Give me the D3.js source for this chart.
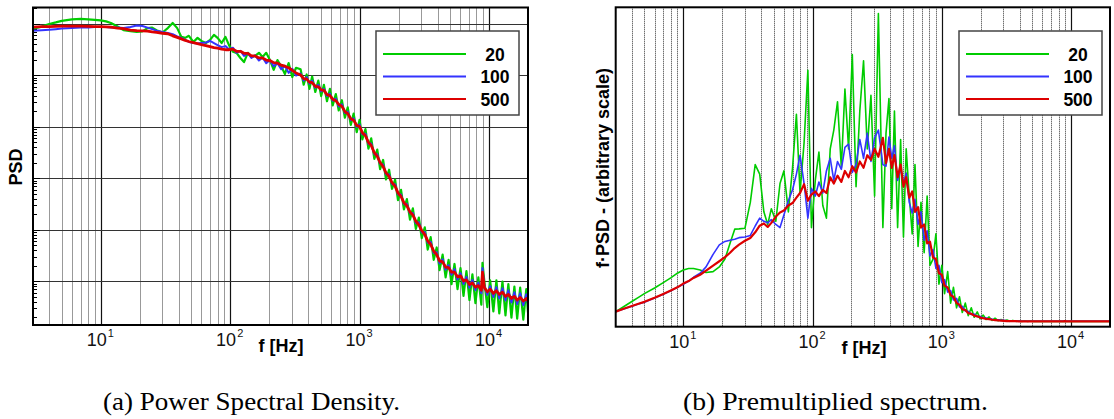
<!DOCTYPE html>
<html>
<head>
<meta charset="utf-8">
<script src="https://cdn.jsdelivr.net/npm/d3@7"></script>
<style>
  body { margin: 0; background: #fff; }
  svg { display: block; }
</style>
</head>
<body>
<svg id="fig" width="1114" height="419"></svg>
<script>
// frequency grid [Hz] shared by every curve
const lowFreq = [3, 3.5, 4, 4.5, 5, 6, 7, 8, 9, 10,
  11, 12, 13.5, 15, 17, 19, 21, 23, 25, 27,
  30, 33, 36, 39, 42, 45, 48, 52, 56, 60,
  65, 70, 75, 80, 86, 92, 98, 105, 112, 120,
  128, 137, 146, 156, 167, 178, 190, 203, 217, 232,
  248, 265, 283, 302, 323];
const highFreq = [350, 370, 390, 410, 430, 455, 480, 505, 530, 560,
  590, 620, 655, 690, 730, 770, 810, 855, 900, 950,
  1000, 1050, 1110, 1170, 1230, 1300, 1370, 1440, 1520, 1600,
  1690, 1780, 1880, 1980, 2090, 2200, 2320, 2450, 2580, 2720,
  2870, 3020, 3190, 3360, 3540, 3740, 3940, 4150, 4380, 4620,
  4870, 5130, 5410, 5710, 6020, 6350, 6690, 7060, 7440, 7850,
  8270, 8720, 8900, 9200, 9700, 10200, 10800, 11400, 12000, 12700,
  13400, 14100, 14900, 15700, 16500, 17400, 18400, 19400, 20000];

// (a) PSD, stored as log10 of the (arbitrary) PSD value
const psd20 = [-0.09, -0.05, 0.00, 0.03, 0.06, 0.09, 0.10, 0.09, 0.08, 0.07,
  0.05, 0.02, -0.05, -0.12, -0.14, -0.155, -0.145, -0.08, -0.07, -0.12,
  -0.165, -0.08, 0.02, -0.08, -0.25, -0.27, -0.23, -0.35, -0.27, -0.33,
  -0.37, -0.31, -0.21, -0.27, -0.37, -0.25, -0.41, -0.54, -0.56, -0.66,
  -0.74, -0.56, -0.64, -0.62, -0.56, -0.64, -0.56, -0.70, -0.89, -0.70,
  -0.82, -0.97, -0.76, -1.03, -0.85,
  -0.88, -1.18, -0.98, -1.26, -1.02, -1.32, -1.10, -1.40, -1.18, -1.50,
  -1.26, -1.58, -1.36, -1.68, -1.48, -1.82, -1.62, -1.96, -1.74, -2.10,
  -1.86, -2.24, -2.04, -2.42, -2.22, -2.62, -2.44, -2.82, -2.64, -3.02,
  -2.83, -3.20, -3.02, -3.42, -3.22, -3.60, -3.40, -3.80, -3.58, -3.98,
  -3.76, -4.16, -3.95, -4.38, -4.14, -4.58, -4.34, -4.78, -4.48, -4.92,
  -4.58, -5.05, -4.66, -5.15, -4.74, -5.28, -4.80, -5.36, -4.86, -5.42,
  -4.92, -5.45, -4.64, -5.00, -5.50, -4.98, -5.58, -4.98, -5.62, -5.00,
  -5.66, -5.05, -5.70, -5.10, -5.72, -5.12, -5.74, -5.15, -5.60];
const psd100 = [-0.13, -0.12, -0.11, -0.10, -0.09, -0.08, -0.07, -0.07, -0.06, -0.06,
  -0.06, -0.07, -0.07, -0.08, -0.06, -0.03, -0.04, -0.07, -0.10, -0.13,
  -0.155, -0.175, -0.20, -0.24, -0.27, -0.31, -0.35, -0.37, -0.38, -0.37,
  -0.36, -0.33, -0.37, -0.41, -0.45, -0.43, -0.49, -0.46, -0.56, -0.52,
  -0.62, -0.57, -0.66, -0.61, -0.71, -0.65, -0.76, -0.70, -0.82, -0.76,
  -0.88, -0.81, -0.95, -0.87, -1.00,
  -0.96, -1.10, -1.03, -1.16, -1.10, -1.24, -1.18, -1.31, -1.26, -1.40,
  -1.35, -1.49, -1.45, -1.60, -1.56, -1.73, -1.70, -1.87, -1.83, -2.00,
  -1.95, -2.14, -2.13, -2.33, -2.32, -2.53, -2.53, -2.72, -2.73, -2.92,
  -2.92, -3.11, -3.11, -3.31, -3.31, -3.50, -3.49, -3.68, -3.67, -3.87,
  -3.85, -4.05, -4.04, -4.25, -4.23, -4.45, -4.43, -4.65, -4.57, -4.77,
  -4.68, -4.87, -4.76, -4.96, -4.84, -5.05, -4.91, -5.12, -4.97, -5.17,
  -5.02, -5.23, -4.74, -5.08, -5.26, -5.09, -5.30, -5.11, -5.33, -5.13,
  -5.37, -5.17, -5.41, -5.21, -5.44, -5.23, -5.46, -5.25, -5.44];
const psd500 = [-0.06, -0.05, -0.05, -0.045, -0.04, -0.04, -0.04, -0.045, -0.05, -0.05,
  -0.055, -0.06, -0.08, -0.09, -0.12, -0.13, -0.135, -0.14, -0.155, -0.165,
  -0.18, -0.19, -0.23, -0.26, -0.29, -0.32, -0.34, -0.36, -0.38, -0.40,
  -0.42, -0.44, -0.46, -0.47, -0.49, -0.50, -0.50, -0.49, -0.53, -0.53,
  -0.57, -0.57, -0.62, -0.62, -0.66, -0.66, -0.70, -0.71, -0.75, -0.76,
  -0.80, -0.82, -0.85, -0.90, -0.95,
  -0.99, -1.06, -1.07, -1.13, -1.14, -1.21, -1.22, -1.28, -1.29, -1.37,
  -1.39, -1.46, -1.49, -1.56, -1.60, -1.70, -1.74, -1.84, -1.87, -1.97,
  -1.99, -2.11, -2.17, -2.30, -2.36, -2.50, -2.57, -2.69, -2.77, -2.89,
  -2.96, -3.08, -3.15, -3.28, -3.35, -3.47, -3.53, -3.65, -3.71, -3.83,
  -3.90, -4.01, -4.09, -4.21, -4.28, -4.41, -4.48, -4.60, -4.62, -4.72,
  -4.73, -4.82, -4.82, -4.91, -4.89, -4.99, -4.97, -5.06, -5.03, -5.11,
  -5.08, -5.17, -4.82, -5.12, -5.20, -5.15, -5.23, -5.18, -5.25, -5.21,
  -5.29, -5.25, -5.33, -5.29, -5.36, -5.31, -5.38, -5.33, -5.38];

// (b) premultiplied spectrum f*PSD, arbitrary linear units
const pre20 = [3.3, 5.0, 6.5, 7.8, 9.0, 10.8, 12.5, 14.0, 15.5, 16.5,
  17.0, 17.0, 16.5, 15.7, 16.0, 17.5, 20.0, 25.0, 29.5, 29.6,
  29.8, 38.0, 50.0, 47.0, 35.0, 31.0, 36.0, 32.0, 44.0, 48.0,
  35.0, 49.0, 66.0, 41.0, 57.0, 80.0, 30.0, 45.0, 54.0, 37.0,
  33.0, 55.0, 61.0, 70.0, 49.0, 74.0, 55.0, 85.0, 43.0, 67.0,
  83.0, 55.0, 72.0, 40.0, 98.0,
  30.0, 60.0, 71.0, 36.0, 67.0, 30.0, 58.0, 27.0, 55.0, 40.0,
  28.0, 50.0, 24.0, 38.0, 22.0, 40.0, 18.0, 20.0, 28.0, 12.0,
  18.0, 9.0, 16.0, 6.0, 11.0, 4.5, 8.0, 3.0, 6.0, 2.0,
  4.5, 1.5, 3.2, 1.0, 2.2, 0.8, 1.6, 0.5, 1.2, 0.4,
  0.8, 0.3, 0.6, 0.2, 0.5, 0.2, 0.4, 0.2, 0.3, 0.2,
  0.3, 0.2, 0.2, 0.2, 0.2, 0.2, 0.2, 0.2, 0.2, 0.2,
  0.2, 0.2, 0.2, 0.2, 0.2, 0.2, 0.2, 0.2, 0.2, 0.2,
  0.2, 0.2, 0.2, 0.2, 0.2, 0.2, 0.2, 0.2, 0.2];
const pre100 = [3.3, 4.2, 5.0, 5.7, 6.3, 7.6, 8.8, 9.9, 11.0, 12.0,
  13.0, 14.2, 15.5, 17.5, 21.5, 24.5, 25.6, 26.0, 26.3, 26.8,
  27.0, 27.5, 30.5, 33.0, 32.0, 31.5, 32.5, 31.0, 30.0, 34.0,
  38.5, 42.0, 47.0, 53.0, 44.0, 33.0, 42.5, 40.0, 44.5, 41.0,
  48.0, 52.0, 45.0, 51.0, 48.5, 55.5, 56.5, 47.5, 50.0, 58.0,
  52.0, 60.0, 51.0, 58.5, 61.0,
  50.0, 49.5, 58.8, 52.0, 56.0, 45.0, 49.0, 44.0, 47.3, 38.0,
  34.6, 39.0, 31.0, 35.0, 26.0, 29.0, 21.0, 23.0, 17.0, 18.0,
  12.5, 13.5, 9.5, 10.0, 7.0, 7.5, 4.8, 5.0, 3.5, 3.4,
  2.4, 2.5, 1.7, 1.8, 1.2, 1.3, 0.9, 0.9, 0.6, 0.7,
  0.5, 0.5, 0.4, 0.35, 0.3, 0.3, 0.3, 0.25, 0.25, 0.25,
  0.25, 0.25, 0.25, 0.25, 0.25, 0.25, 0.25, 0.25, 0.25, 0.25,
  0.25, 0.25, 0.3, 0.25, 0.25, 0.25, 0.25, 0.25, 0.25, 0.25,
  0.25, 0.25, 0.25, 0.25, 0.25, 0.25, 0.25, 0.25, 0.25];
const pre500 = [3.3, 4.3, 5.1, 5.8, 6.4, 7.7, 8.9, 10.0, 11.0, 12.2,
  13.0, 14.0, 15.0, 16.3, 17.9, 19.3, 20.6, 22.0, 23.5, 24.6,
  25.8, 26.7, 28.5, 30.6, 31.3, 30.2, 31.5, 33.5, 34.8, 35.4,
  37.0, 37.8, 39.5, 41.0, 43.8, 38.5, 40.5, 41.5, 40.0, 42.0,
  41.0, 46.0, 44.0, 46.5, 44.5, 48.0, 46.0, 49.5, 47.5, 51.0,
  49.0, 53.0, 51.5, 55.0, 52.5,
  58.5, 50.5, 55.0, 49.0, 53.0, 46.0, 50.0, 43.0, 46.0, 39.5,
  41.5, 35.0, 36.5, 30.0, 31.0, 25.0, 25.5, 20.5, 20.0, 15.5,
  15.0, 11.5, 11.0, 8.5, 8.0, 6.0, 5.5, 4.0, 3.8, 2.8,
  2.6, 2.0, 1.8, 1.4, 1.2, 1.0, 0.9, 0.7, 0.6, 0.5,
  0.4, 0.35, 0.3, 0.3, 0.25, 0.25, 0.2, 0.2, 0.2, 0.2,
  0.2, 0.2, 0.2, 0.2, 0.2, 0.2, 0.2, 0.2, 0.2, 0.2,
  0.2, 0.2, 0.25, 0.2, 0.2, 0.2, 0.2, 0.2, 0.2, 0.2,
  0.2, 0.2, 0.2, 0.2, 0.2, 0.2, 0.2, 0.2, 0.2];

const seriesNames = ["20", "100", "500"];
const seriesColors = ["#00cc00", "#3333ff", "#dd0000"];
const decadeTicks = [10, 100, 1000, 10000];
const captions = ["(a) Power Spectral Density.", "(b) Premultiplied spectrum."];

const freq = lowFreq.concat(highFreq);
const svg = d3.select("#fig");
const font = "'Liberation Sans', Arial, Helvetica, sans-serif";
const crisp = v => Math.round(v) + 0.5;

function drawPanel(p) {
  const g = svg.append("g");
  const x = d3.scaleLog().domain([3, 20000]).range([p.left, p.right]);
  const y = p.y;

  // vertical grid: dotted minors, solid decades
  const minors = [];
  [1, 10, 100, 1000, 10000].forEach(d => {
    for (let k = 2; k <= 9; k++) {
      const v = d * k;
      if (v > 3 && v < 20000) minors.push(v);
    }
  });
  g.append("g").selectAll("line").data(minors).join("line")
    .attr("x1", d => crisp(x(d))).attr("x2", d => crisp(x(d)))
    .attr("y1", p.top).attr("y2", p.bottom)
    .attr("stroke", "#333").attr("stroke-width", 1)
    .attr("stroke-dasharray", "1,1");
  g.append("g").selectAll("line").data(decadeTicks).join("line")
    .attr("x1", d => crisp(x(d))).attr("x2", d => crisp(x(d)))
    .attr("y1", p.top).attr("y2", p.bottom)
    .attr("stroke", "#111").attr("stroke-width", 1.2);

  if (p.hgrid) {
    g.append("g").selectAll("line").data(p.hgrid).join("line")
      .attr("x1", p.left).attr("x2", p.right)
      .attr("y1", d => crisp(y(d))).attr("y2", d => crisp(y(d)))
      .attr("stroke", "#333").attr("stroke-width", 1.2);
    // minor ticks on the left axis
    const yt = [];
    p.hgrid.concat([10]).forEach(d => {
      for (let k = 1; k <= 9; k++) {
        const v = d / 10 * k;
        if (v >= y.domain()[0] && v <= y.domain()[1]) yt.push([v, k === 1 ? 7 : 4]);
      }
    });
    g.append("g").selectAll("line").data(yt).join("line")
      .attr("x1", p.left).attr("x2", d => p.left + d[1])
      .attr("y1", d => crisp(y(d[0]))).attr("y2", d => crisp(y(d[0])))
      .attr("stroke", "#000").attr("stroke-width", 1);
  }

  // curves
  const clipId = "clip" + p.id;
  svg.append("clipPath").attr("id", clipId).append("rect")
    .attr("x", p.left).attr("y", p.top)
    .attr("width", p.right - p.left).attr("height", p.bottom - p.top);
  const line = d3.line().x(d => x(d[0])).y(d => y(d[1]));
  const lg = g.append("g").attr("clip-path", `url(#${clipId})`).attr("fill", "none");
  p.series.forEach((vals, i) => {
    lg.append("path")
      .datum(freq.map((f, j) => [f, p.val(vals[j])]))
      .attr("d", line)
      .attr("stroke", seriesColors[i])
      .attr("stroke-width", p.widths[i])
      .attr("stroke-linejoin", "round");
  });

  // frame
  g.append("rect")
    .attr("x", p.left).attr("y", p.top)
    .attr("width", p.right - p.left).attr("height", p.bottom - p.top)
    .attr("fill", "none").attr("stroke", "#000").attr("stroke-width", 2);

  // x tick labels 10^n
  decadeTicks.forEach((d, i) => {
    g.append("text")
      .attr("x", x(d) + 6).attr("y", p.bottom + 21)
      .attr("text-anchor", "end")
      .attr("font-family", font).attr("font-size", 18).attr("fill", "#111")
      .text("10");
    g.append("text")
      .attr("x", x(d) + 7).attr("y", p.bottom + 12)
      .attr("font-family", font).attr("font-size", 11).attr("fill", "#111")
      .text(String(i + 1));
  });

  g.append("text")
    .attr("x", p.xlabelX).attr("y", p.bottom + 27)
    .attr("text-anchor", "middle")
    .attr("font-family", font).attr("font-size", 18).attr("font-weight", "bold")
    .text("f [Hz]");

  g.append("text")
    .attr("transform", `translate(${p.ylabelX},${p.ylabelY}) rotate(-90)`)
    .attr("text-anchor", "middle")
    .attr("font-family", font).attr("font-size", 18).attr("font-weight", "bold")
    .text(p.ylabel);

  // legend
  if (p.legend) {
    const L = p.legend;
    const lgd = g.append("g");
    lgd.append("rect")
      .attr("x", L.x).attr("y", L.y).attr("width", 143).attr("height", 84)
      .attr("fill", "#fff").attr("stroke", "#444").attr("stroke-width", 1.5);
    seriesNames.forEach((name, i) => {
      const ly = L.y + 23 + i * 22.5;
      lgd.append("line")
        .attr("x1", L.x + 7).attr("x2", L.x + 90)
        .attr("y1", ly).attr("y2", ly)
        .attr("stroke", seriesColors[i]).attr("stroke-width", 2.2);
      lgd.append("text")
        .attr("x", L.x + 119).attr("y", ly + 6.5)
        .attr("text-anchor", "middle")
        .attr("font-family", font).attr("font-size", 17.5).attr("font-weight", "bold")
        .text(name);
    });
  }

  svg.append("text")
    .attr("x", p.captionX).attr("y", 410)
    .attr("text-anchor", "middle")
    .attr("font-family", "'Liberation Serif', 'Times New Roman', serif")
    .attr("font-size", 26)
    .attr("textLength", p.captionW).attr("lengthAdjust", "spacingAndGlyphs")
    .text(p.caption);
}

const yPsd = d3.scaleLog().domain([Math.pow(10, -5.845), Math.pow(10, 0.32)]).range([325, 7.5]);
drawPanel({
  id: "a", left: 33, right: 528, top: 7.5, bottom: 325,
  y: yPsd,
  hgrid: [1, 1e-1, 1e-2, 1e-3, 1e-4, 1e-5],
  series: [psd20, psd100, psd500],
  val: v => Math.pow(10, v),
  widths: [2.2, 2, 2.8],
  xlabelX: 281, ylabelX: 22, ylabelY: 167, ylabel: "PSD",
  legend: { x: 376, y: 31 },
  caption: captions[0], captionX: 251.5, captionW: 297
});

const yPre = d3.scaleLinear().domain([-1.5, 100]).range([326.7, 7.3]);
drawPanel({
  id: "b", left: 615.7, right: 1110, top: 7.3, bottom: 326.7,
  y: yPre,
  hgrid: null,
  series: [pre20, pre100, pre500],
  val: v => v,
  widths: [1.6, 1.6, 2.2],
  xlabelX: 864, ylabelX: 609, ylabelY: 168, ylabel: "f·PSD - (arbitrary scale)",
  legend: { x: 959, y: 31 },
  caption: captions[1], captionX: 835.5, captionW: 305
});
</script>
</body>
</html>
